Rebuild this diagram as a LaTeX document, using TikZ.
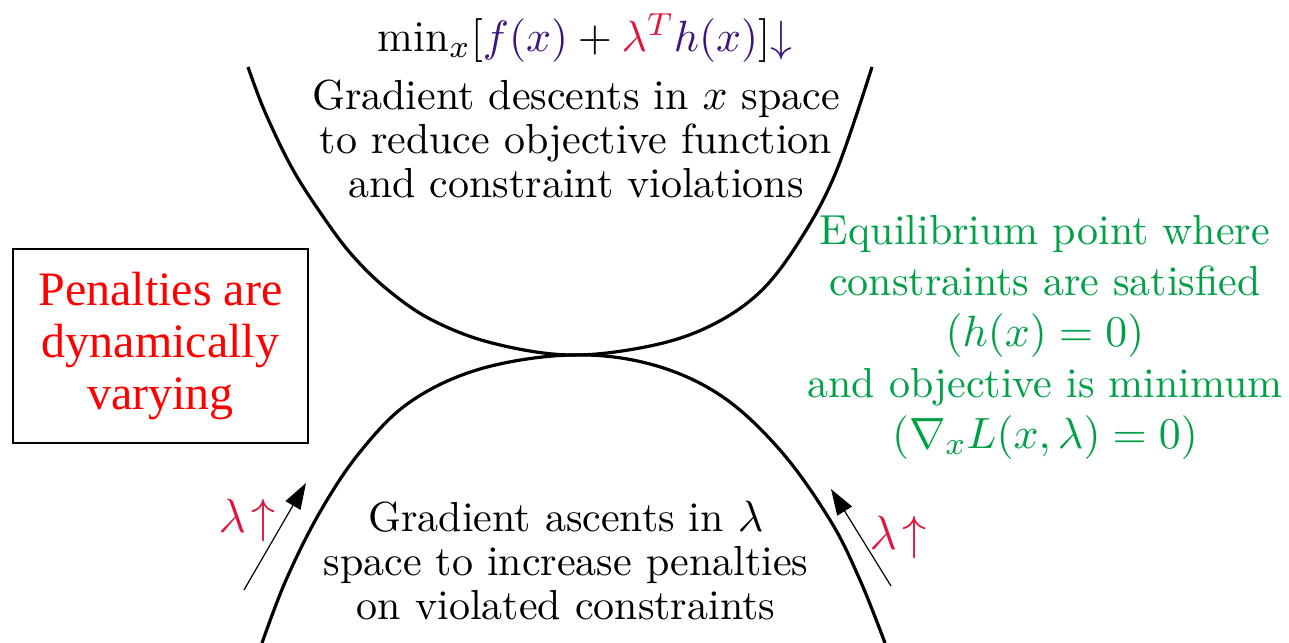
\documentclass[tikz,border=0pt]{standalone}
\usepackage{fontspec}
\newfontfamily\timesfont{Liberation Serif}
\usetikzlibrary{arrows.meta}
\definecolor{lampink}{RGB}{225,20,60}
\definecolor{fpurple}{RGB}{60,20,130}
\definecolor{eqgreen}{RGB}{0,160,70}
\newcommand{\eqmathsize}[1]{{\fontsize{11}{11}\selectfont#1}}
\tikzset{
  curve/.style={line width=0.8pt, line join=round},
  lamarrow/.style={-{Triangle[length=6.5pt,width=4.3pt]}, line width=0.3pt},
  txt/.style={align=center, inner sep=0pt, font=\fontsize{10.5}{11}\selectfont},
  eqtxt/.style={align=center, inner sep=0pt, text=eqgreen, font=\fontsize{10.5}{12.75}\selectfont},
  lamlabel/.style={inner sep=0pt, text=lampink, font=\fontsize{11.5}{12}\selectfont},
  penbox/.style={draw, line width=0.3pt, minimum width=295*0.25pt, minimum height=194*0.25pt, inner sep=0pt, align=center, text=red, font=\timesfont\fontsize{12}{13}\selectfont},
}
\begin{document}
\begin{tikzpicture}[x=0.25pt, y=-0.25pt]
\useasboundingbox (0,0) rectangle (1289,643);
% upper curve
\draw[curve] plot[smooth, tension=0.6] coordinates {(248,67) (265,112) (292,168) (322,215) (352,255) (388,290) (432,320) (492,343) (570,355) (650,346) (710,326) (760,292) (800,240) (836,172) (872,67)};
% lower curve
\draw[curve] plot[smooth, tension=0.6] coordinates {(262,643) (286,580) (320,512) (360,452) (410,402) (480,369) (570,355) (650,364) (720,395) (780,450) (830,520) (860,580) (885,643)};
% top text
\node[txt, font=\fontsize{11}{12}\selectfont] (minf) at (585,38) {$\min_x[{\color{fpurple}f(x)} + {\color{lampink}\lambda^T}{\color{fpurple}h(x)}]{\color{fpurple}\downarrow}$};
\node[txt] (desc) at (576,139) {Gradient descents in $x$ space\\to reduce objective function\\and constraint violations};
% bottom text
\node[txt] (asc) at (566,561) {Gradient ascents in $\lambda$\\space to increase penalties\\on violated constraints};
% green text
\node[eqtxt] (eq) at (1045,337) {Equilibrium point where\\constraints are satisfied\\\eqmathsize{$(h(x)=0)$}\\and objective is minimum\\\eqmathsize{$(\nabla_x L(x,\lambda)=0)$}};
% box
\node[penbox] (pen) at (160.5,346) {Penalties are\\dynamically\\varying};
% arrows
\coordinate (la0) at (244,590);
\coordinate (la1) at (306,483);
\coordinate (ra0) at (891,586);
\coordinate (ra1) at (831,489);
\draw[lamarrow] (la0) -- (la1);
\draw[lamarrow] (ra0) -- (ra1);
\node[lamlabel] (ll) at (247,520) {$\lambda\!\uparrow$};
\node[lamlabel] (rl) at (898,537) {$\lambda\!\uparrow$};
\end{tikzpicture}
\end{document}
